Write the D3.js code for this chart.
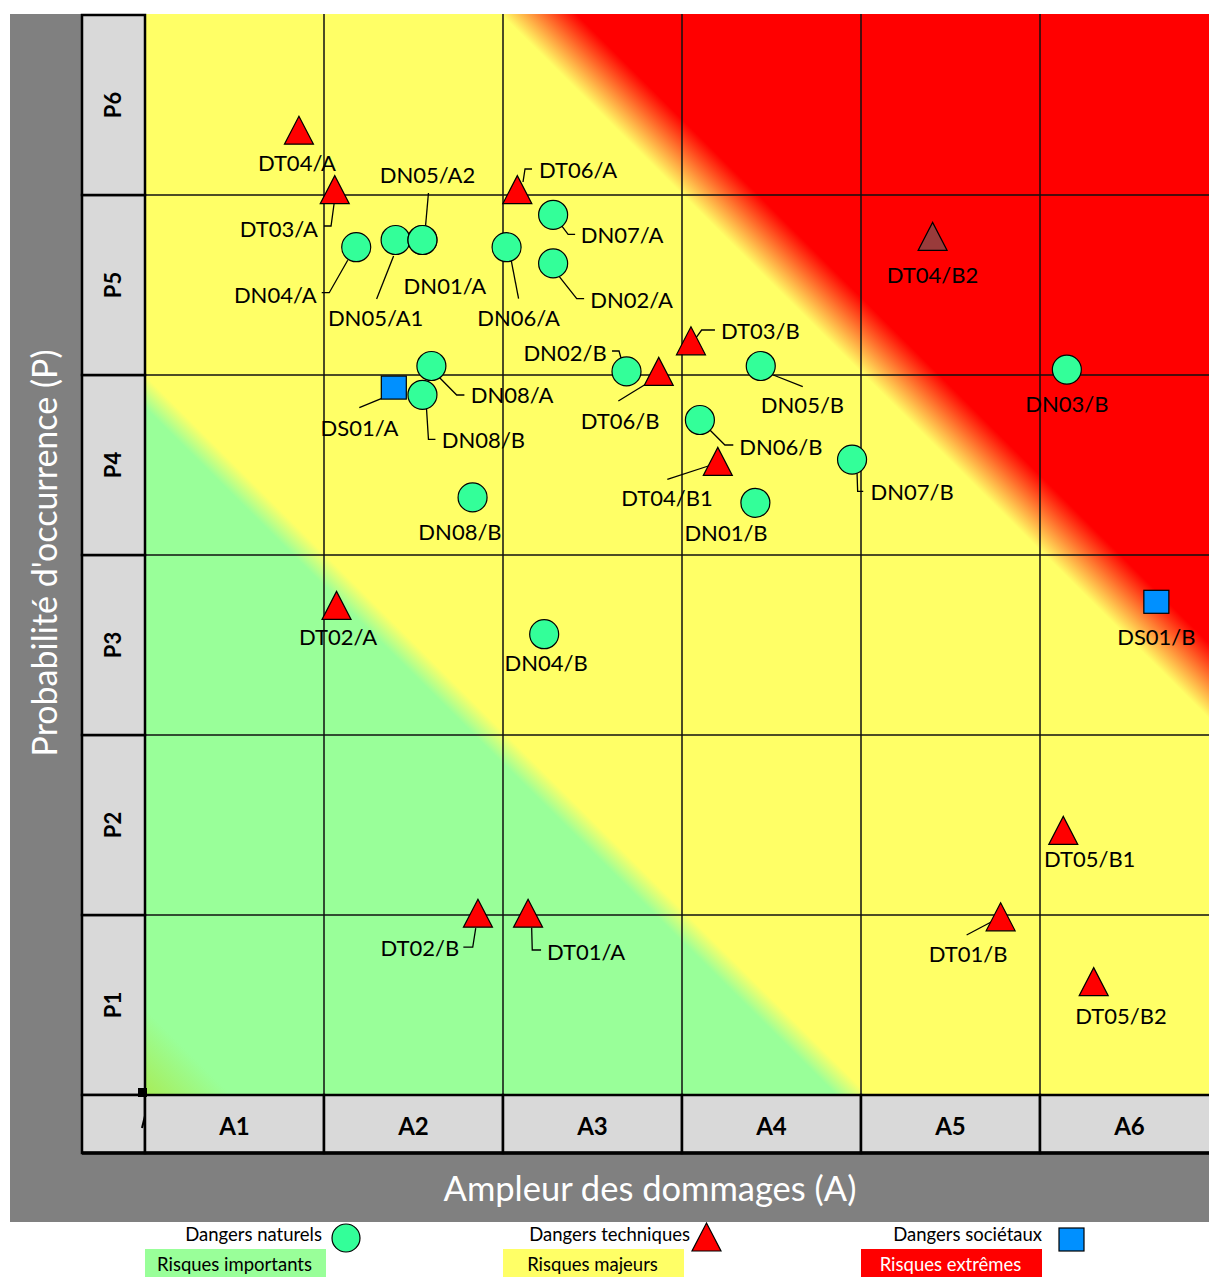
<!DOCTYPE html>
<html>
<head>
<meta charset="utf-8">
<title>Matrice des risques</title>
<script src="https://d3js.org/d3.v7.min.js"></script>
<style>
  body { margin: 0; background: #fff; }
  svg text { font-family: Lato, "Open Sans", sans-serif; }
</style>
</head>
<body>
<script>
var width = 1209;
var height = 1277;

// catégories des axes
var colLabels = ["A1", "A2", "A3", "A4", "A5", "A6"];
var rowLabels = ["P1", "P2", "P3", "P4", "P5", "P6"];

// [nom, ampleur A, probabilité P]
var naturels = [
  ["DN04/A", 1.18, 4.71], ["DN05/A1", 1.40, 4.75], ["DN01/A", 1.55, 4.75], ["DN05/A2", 1.55, 4.75],
  ["DN06/A", 2.02, 4.71], ["DN07/A", 2.28, 4.89], ["DN02/A", 2.28, 4.62], ["DN08/A", 1.60, 4.05],
  ["DN08/B", 1.55, 3.89], ["DN08/B", 1.83, 3.32], ["DN02/B", 2.69, 4.02], ["DN05/B", 3.44, 4.05],
  ["DN06/B", 3.10, 3.75], ["DN07/B", 3.95, 3.53], ["DN01/B", 3.41, 3.29], ["DN04/B", 2.23, 2.56],
  ["DN03/B", 5.15, 4.03]
];
var techniques = [
  ["DT04/A", 0.86, 5.36], ["DT03/A", 1.06, 5.03], ["DT06/A", 2.08, 5.03], ["DT03/B", 3.05, 4.19],
  ["DT06/B", 2.87, 4.02], ["DT04/B1", 3.20, 3.52], ["DT04/B2", 4.40, 4.77], ["DT02/A", 1.07, 2.72],
  ["DT02/B", 1.86, 1.01], ["DT01/A", 2.14, 1.01], ["DT05/B1", 5.13, 1.47], ["DT01/B", 4.78, 0.99],
  ["DT05/B2", 5.30, 0.63]
];
var societaux = [
  ["DS01/A", 1.39, 3.93], ["DS01/B", 5.65, 2.74]
];

var dangerNames = ["Dangers naturels", "Dangers techniques", "Dangers sociétaux"];
var zoneNames = ["Risques importants", "Risques majeurs", "Risques extrêmes"];

// placement des étiquettes : décalage (px) depuis le marqueur + trait de rappel
var naturelsLbl = [
  [-81, 56, [[-8.5, 13], [-27, 45.5], [-34.5, 45.5]]],
  [-20, 86, [[-2, 16], [-19, 59]]],
  [22.5, 54, null],
  [5, -57, [[3, -13], [6, -47]]],
  [12, 78.5, [[4, 10], [12, 51.5]]],
  [69, 28.5, [[8.6, 11], [15, 19.5], [22, 19.5]]],
  [78.5, 44.3, [[6, 13], [23.6, 35.3], [31, 35.3]]],
  [80.6, 37.3, [[8, 11.5], [25.3, 29], [33, 29]]],
  [61, 53, [[4, 13], [6, 44.5], [13, 44.5]]],
  [-12.6, 42.6, null],
  [-61.5, -10.7, [[-14.5, -20.4], [-7.5, -20.4], [-5.5, -13.4]]],
  [41.7, 47.3, [[12.5, 9], [42, 20.7]]],
  [81, 35, [[10, 10], [25, 25], [33.4, 25]]],
  [60, 40.4, [[5, 13.7], [5.6, 31.7], [11.2, 31.7]]],
  [-29.4, 38, null],
  [2, 37, null],
  [0, 42, null]
];
var techniquesLbl = [
  [-2, 41, null],
  [-56, 47, [[-0.7, 14.4], [-3.7, 36.4], [-10.7, 36.4]]],
  [60.7, -11.3, [[5.7, -7.6], [7.7, -20.6], [14.7, -20.6]]],
  [69.5, -1.5, [[5, -3], [10.7, -10.8], [24, -10.8]]],
  [-38.7, 58, [[-12.7, 12.6], [-40.4, 29.6]]],
  [-50.8, 44.3, [[-9.5, 4.6], [-50.5, 17.9]]],
  [0, 46.3, null],
  [1.5, 39.6, null],
  [-58, 42.8, [[-2.2, 15], [-5.2, 34], [-14.6, 34]]],
  [58, 46.8, [[3.6, 14.5], [4.2, 36.8], [13, 36.8]]],
  [26.4, 37, null],
  [-32.6, 45.5, [[-9, 5], [-34, 18.2]]],
  [27.3, 42.4, null]
];
var societauxLbl = [
  [-34.3, 48, [[-12, 10.7], [-34.5, 20]]],
  [0, 43, null]
];

var svg = d3.select("body").append("svg")
  .attr("width", width).attr("height", height);

var x = d3.scaleLinear().domain([0, 6]).range([145, 1219]);
var y = d3.scaleLinear().domain([0, 6]).range([1095, 15]);
var xBand = d3.scaleBand().domain(colLabels).range([145, 1219]);
var yBand = d3.scaleBand().domain(rowLabels).range([1095, 15]);

// fond gris
svg.append("rect").attr("x", 10).attr("y", 14).attr("width", 1199).attr("height", 1208).attr("fill", "#808080");

// dégradé des zones de risque
var defs = svg.append("defs");
var grad = defs.append("linearGradient").attr("id", "zones")
  .attr("gradientUnits", "userSpaceOnUse")
  .attr("x1", x(0)).attr("y1", y(0)).attr("x2", x(6)).attr("y2", y(6));
[[0, "#a8ec58"], [0.04, "#99ff99"], [0.32, "#99ff99"], [0.335, "#ffff66"],
 [0.668, "#ffff66"], [0.703, "#ff0000"], [1, "#ff0000"]].forEach(function(s) {
  grad.append("stop").attr("offset", s[0]).attr("stop-color", s[1]);
});
defs.append("clipPath").attr("id", "plotclip").append("rect")
  .attr("x", 145).attr("y", 14).attr("width", width - 145).attr("height", 1081);

var plot = svg.append("g").attr("clip-path", "url(#plotclip)");
plot.append("rect").attr("x", x(0)).attr("y", 14).attr("width", x(6) - x(0)).attr("height", y(0) - 14)
  .attr("fill", "url(#zones)");

// grille
plot.selectAll(".vg").data(d3.range(1, 6)).enter().append("line")
  .attr("x1", (d) => x(d)).attr("x2", (d) => x(d)).attr("y1", 14).attr("y2", y(0))
  .attr("stroke", "#111").attr("stroke-width", 1.5);
plot.selectAll(".hg").data(d3.range(1, 6)).enter().append("line")
  .attr("x1", x(0)).attr("x2", width).attr("y1", (d) => y(d)).attr("y2", (d) => y(d))
  .attr("stroke", "#111").attr("stroke-width", 1.5);

// bandeau gauche (P)
svg.selectAll(".pcell").data(rowLabels).enter().append("rect")
  .attr("x", 82).attr("y", (d) => yBand(d)).attr("width", 63).attr("height", yBand.bandwidth())
  .attr("fill", "#d9d9d9").attr("stroke", "#000").attr("stroke-width", 2.5);
svg.selectAll(".plab").data(rowLabels).enter().append("text")
  .attr("transform", (d) => "translate(121," + (yBand(d) + yBand.bandwidth() / 2) + ") rotate(-90)")
  .attr("text-anchor", "middle").attr("font-size", 22).attr("font-weight", "bold")
  .text((d) => d);

// bandeau bas (A)
svg.append("rect").attr("x", 82).attr("y", 1095).attr("width", 63).attr("height", 58)
  .attr("fill", "#d9d9d9").attr("stroke", "#000").attr("stroke-width", 2.5);
svg.selectAll(".acell").data(colLabels).enter().append("rect")
  .attr("x", (d) => xBand(d)).attr("y", 1095).attr("width", xBand.bandwidth()).attr("height", 58)
  .attr("fill", "#d9d9d9").attr("stroke", "#000").attr("stroke-width", 2.5);
svg.append("line").attr("x1", 82).attr("x2", width).attr("y1", 1153).attr("y2", 1153)
  .attr("stroke", "#000").attr("stroke-width", 3.5);
svg.selectAll(".alab").data(colLabels).enter().append("text")
  .attr("x", (d) => xBand(d) + xBand.bandwidth() / 2).attr("y", 1135)
  .attr("text-anchor", "middle").attr("font-size", 24).attr("font-weight", "bold")
  .text((d) => d);
svg.append("rect").attr("x", 138).attr("y", 1088).attr("width", 9).attr("height", 9).attr("fill", "#000");
svg.append("line").attr("x1", 142).attr("x2", 145).attr("y1", 1128).attr("y2", 1116)
  .attr("stroke", "#000").attr("stroke-width", 2);

// titres des axes
svg.append("text").attr("x", 650).attr("y", 1201).attr("text-anchor", "middle")
  .attr("font-size", 34.5).attr("fill", "#fff").text("Ampleur des dommages (A)");
svg.append("text").attr("transform", "translate(57,553) rotate(-90)").attr("text-anchor", "middle")
  .attr("font-size", 34).attr("fill", "#fff").text("Probabilité d'occurrence (P)");

// marqueurs
var tri = "M0,-14L14.5,14L-14.5,14Z";
var layers = [
  { data: naturels, lbl: naturelsLbl, kind: "circle" },
  { data: techniques, lbl: techniquesLbl, kind: "tri" },
  { data: societaux, lbl: societauxLbl, kind: "square" }
];
var lineGen = d3.line();
layers.forEach(function(layer) {
  var g = svg.append("g");
  layer.data.forEach(function(d, i) {
    var cx = x(d[1]), cy = y(d[2]);
    var l = layer.lbl[i];
    if (l[2]) {
      g.append("path").attr("d", lineGen(l[2].map((p) => [cx + p[0], cy + p[1]])))
        .attr("fill", "none").attr("stroke", "#000").attr("stroke-width", 1.3);
    }
  });
  layer.data.forEach(function(d) {
    var cx = x(d[1]), cy = y(d[2]);
    if (layer.kind == "circle") {
      g.append("circle").attr("cx", cx).attr("cy", cy).attr("r", 14.5)
        .attr("fill", "#33ff99").attr("stroke", "#000").attr("stroke-width", 1.2);
    } else if (layer.kind == "tri") {
      g.append("path").attr("d", tri).attr("transform", "translate(" + cx + "," + cy + ")")
        .attr("fill", d[0] == "DT04/B2" ? "#993b3b" : "#ff0000").attr("stroke", "#000").attr("stroke-width", 1.2);
    } else {
      g.append("rect").attr("x", cx - 12.5).attr("y", cy - 11.5).attr("width", 25).attr("height", 23)
        .attr("fill", "#0090ff").attr("stroke", "#000").attr("stroke-width", 1.2);
    }
  });
  layer.data.forEach(function(d, i) {
    var l = layer.lbl[i];
    g.append("text").attr("x", x(d[1]) + l[0]).attr("y", y(d[2]) + l[1])
      .attr("text-anchor", "middle").attr("font-size", 22).attr("fill", "#000")
      .text(d[0]);
  });
});

// légende
var legX = [x(0), x(2), x(4)];
var zoneFill = ["#99ff99", "#ffff66", "#ff0000"];
var zoneText = ["#000", "#000", "#fff"];
svg.selectAll(".zbox").data(zoneNames).enter().append("rect")
  .attr("x", (d, i) => legX[i]).attr("y", 1249).attr("width", x(1) - x(0) + 2).attr("height", 28)
  .attr("fill", (d, i) => zoneFill[i]);
svg.selectAll(".ztxt").data(zoneNames).enter().append("text")
  .attr("x", (d, i) => legX[i] + (x(1) - x(0)) / 2).attr("y", 1271)
  .attr("text-anchor", "middle").attr("font-size", 18.5).attr("fill", (d, i) => zoneText[i])
  .text((d) => d);
var dangerEnd = [322, 690, 1042];
svg.selectAll(".dtxt").data(dangerNames).enter().append("text")
  .attr("x", (d, i) => dangerEnd[i]).attr("y", 1241)
  .attr("text-anchor", "end").attr("font-size", 18.5).attr("fill", "#000")
  .text((d) => d);
svg.append("circle").attr("cx", 346).attr("cy", 1238).attr("r", 14)
  .attr("fill", "#33ff99").attr("stroke", "#000").attr("stroke-width", 1.2);
svg.append("path").attr("d", tri).attr("transform", "translate(706.5,1237)")
  .attr("fill", "#ff0000").attr("stroke", "#000").attr("stroke-width", 1.2);
svg.append("rect").attr("x", 1059).attr("y", 1228).attr("width", 25).attr("height", 23)
  .attr("fill", "#0090ff").attr("stroke", "#000").attr("stroke-width", 1.2);
</script>
</body>
</html>
